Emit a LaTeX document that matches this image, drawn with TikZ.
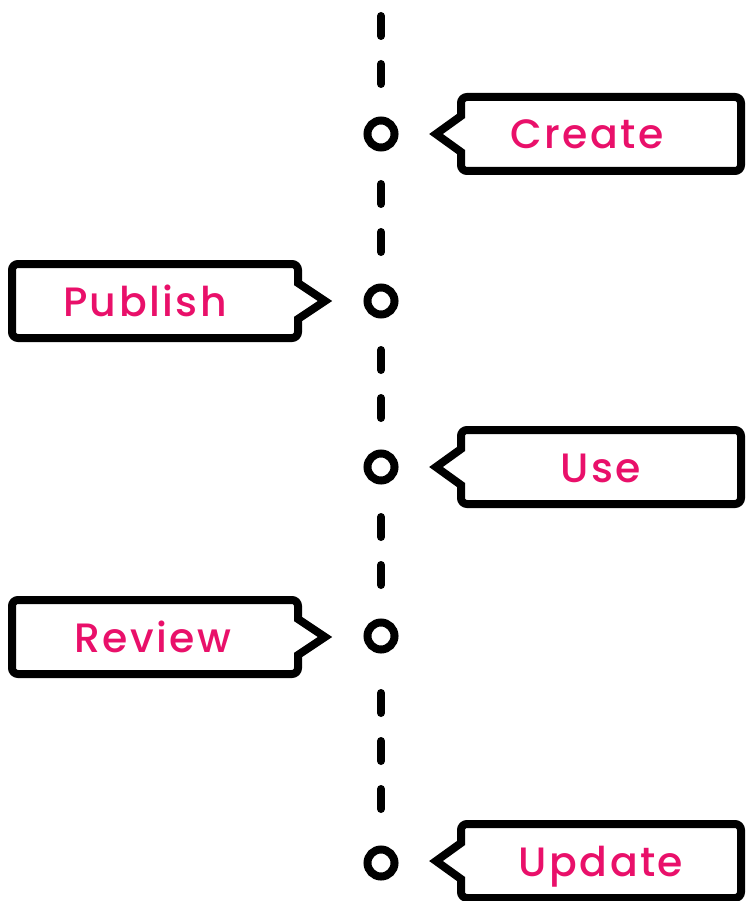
\documentclass[tikz,border=0pt]{standalone}
\usepackage{fontspec}
\setmainfont{Poppins}[UprightFont=* Medium, LetterSpace=6]
\definecolor{labelpink}{RGB}{233,16,106}
\tikzset{
	dot/.style={circle, draw, line width=8pt, fill=white, minimum size=27pt, inner sep=0pt},
	rail/.style={line width=8pt, line cap=round, dash pattern=on 20pt off 28pt},
	bubble/.style={line width=8pt, line join=miter},
	labeltext/.style={text=labelpink, font=\fontsize{41}{41}\selectfont, inner sep=0pt, anchor=base}
}
\newcommand{\bubbleright}[4] % y in pt, node name, text x in pt, text
{
	% box with pointer to the left
	\draw[bubble] (436,#1) -- (461,#1-18) [rounded corners=6pt] -- (461,#1-37) -- (741,#1-37) -- (741,#1+37) -- (461,#1+37) [sharp corners] -- (461,#1+18) -- cycle;
	% text
	\node[labeltext] (#2) at (#3,#1+15) {#4};
}
\newcommand{\bubbleleft}[4] % y in pt, node name, text x in pt, text
{
	% box with pointer to the right
	\draw[bubble] (325,#1) -- (298,#1-18) [rounded corners=6pt] -- (298,#1-37) -- (12,#1-37) -- (12,#1+37) -- (298,#1+37) [sharp corners] -- (298,#1+18) -- cycle;
	% text
	\node[labeltext] (#2) at (#3,#1+15) {#4};
}
\begin{document}
\begin{tikzpicture}[x=1pt, y=-1pt]
	% 746 x 901
	\useasboundingbox (0,0) rectangle (746,901);
	\coordinate (top) at (381,16);
	\node[dot] (dot1) at (381,134) {};
	\node[dot] (dot2) at (381,301) {};
	\node[dot] (dot3) at (381,467) {};
	\node[dot] (dot4) at (381,636) {};
	\node[dot] (dot5) at (381,863) {};

	\draw[rail, shorten >=50pt] (top) -- (dot1.center);
	\draw[rail, shorten <=50pt, shorten >=49pt] (dot1.center) -- (dot2.center);
	\draw[rail, shorten <=49pt, shorten >=49pt] (dot2.center) -- (dot3.center);
	\draw[rail, shorten <=50pt, shorten >=50pt] (dot3.center) -- (dot4.center);
	\draw[rail, shorten <=57pt, shorten >=54pt] (dot4.center) -- (dot5.center);

	\bubbleright{134}{create}{587}{Create};
	\bubbleleft{301}{publish}{145}{Publish};
	\bubbleright{467}{use}{601}{Use};
	\bubbleleft{637}{review}{153}{Review};
	\bubbleright{861}{update}{601}{Update};
\end{tikzpicture}
\end{document}
